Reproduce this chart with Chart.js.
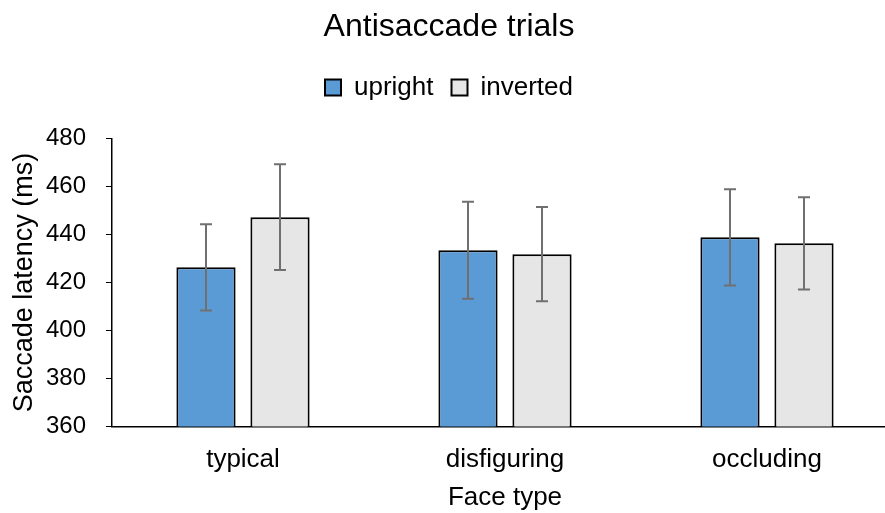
<!DOCTYPE html>
<html>
<head>
    <title>Antisaccade trials</title>
    <script src="https://cdn.jsdelivr.net/npm/chart.js@4.4.0/dist/chart.umd.min.js"></script>
    <style>
        body {
            margin: 0;
            overflow: hidden;
            background-color: #ffffff;
        }
        .chart-container {
            width: 898px;
            height: 513px;
        }
    </style>
</head>
<body>
    <div class="chart-container">
        <canvas id="latencyChart" width="898" height="513"></canvas>
    </div>

    <script>
        // Values
        const categories = ['typical', 'disfiguring', 'occluding'];
        const upright = [426.3, 433.4, 438.8];
        const inverted = [447.2, 431.8, 436.3];
        const uprightErr = [18.0, 20.2, 20.0];
        const invertedErr = [22.0, 19.6, 19.2];
        const yTicks = [360, 380, 400, 420, 440, 460, 480];

        const fontFamily = "'Liberation Sans', Arial, sans-serif";
        Chart.defaults.font.family = fontFamily;
        Chart.defaults.color = '#000000';

        // draws the error bars on top of each bar
        const errorBars = {
            id: 'errorBars',
            afterDatasetsDraw(chart) {
                const ctx = chart.ctx;
                const yScale = chart.scales.y;
                const errs = [uprightErr, invertedErr];
                ctx.save();
                ctx.strokeStyle = '#707070';
                ctx.lineWidth = 2;
                chart.data.datasets.forEach((ds, i) => {
                    const meta = chart.getDatasetMeta(i);
                    meta.data.forEach((bar, j) => {
                        const v = ds.data[j];
                        const e = errs[i][j];
                        const x = bar.x;
                        const yTop = yScale.getPixelForValue(v + e);
                        const yBot = yScale.getPixelForValue(v - e);
                        ctx.beginPath();
                        ctx.moveTo(x, yTop);
                        ctx.lineTo(x, yBot);
                        ctx.moveTo(x - 6, yTop);
                        ctx.lineTo(x + 6, yTop);
                        ctx.moveTo(x - 6, yBot);
                        ctx.lineTo(x + 6, yBot);
                        ctx.stroke();
                    });
                });
                ctx.restore();
            }
        };

        // extra room under the legend
        const legendSpace = {
            id: 'legendSpace',
            beforeInit(chart) {
                const origFit = chart.legend.fit;
                chart.legend.fit = function () {
                    origFit.bind(chart.legend)();
                    this.height += 28;
                };
            }
        };

        const ctx = document.getElementById('latencyChart').getContext('2d');
        const chart = new Chart(ctx, {
            type: 'bar',
            data: {
                labels: categories,
                datasets: [{
                    label: 'upright',
                    data: upright,
                    backgroundColor: '#5B9BD5',
                    borderColor: '#000000',
                    borderWidth: 2,
                    borderSkipped: false,
                    barPercentage: 0.8,
                    categoryPercentage: 0.565
                }, {
                    label: 'inverted',
                    data: inverted,
                    backgroundColor: '#E6E6E6',
                    borderColor: '#000000',
                    borderWidth: 2,
                    borderSkipped: false,
                    barPercentage: 0.8,
                    categoryPercentage: 0.565
                }]
            },
            options: {
                responsive: false,
                animation: false,
                layout: {
                    padding: { left: 0, right: 0, top: 0, bottom: 0 }
                },
                scales: {
                    y: {
                        min: 360,
                        max: 480,
                        afterBuildTicks: (scale) => {
                            scale.ticks = yTicks.map(v => ({ value: v }));
                        },
                        afterFit: (scale) => {
                            scale.width = 112;
                        },
                        grid: {
                            drawOnChartArea: false,
                            drawTicks: true,
                            tickLength: 6,
                            color: '#000000'
                        },
                        border: {
                            display: true,
                            color: '#000000',
                            width: 1.5
                        },
                        ticks: {
                            padding: 20,
                            font: { size: 24 },
                            color: '#000000'
                        },
                        title: {
                            display: true,
                            text: 'Saccade latency (ms)',
                            font: { size: 27 },
                            color: '#000000',
                            padding: { top: 8, bottom: 0 }
                        }
                    },
                    x: {
                        grid: {
                            display: false
                        },
                        border: {
                            display: true,
                            color: '#000000',
                            width: 1.5
                        },
                        ticks: {
                            padding: 10,
                            font: { size: 26 },
                            color: '#000000'
                        },
                        title: {
                            display: true,
                            text: 'Face type',
                            font: { size: 26 },
                            color: '#000000',
                            padding: { top: -4, bottom: 0 }
                        }
                    }
                },
                plugins: {
                    title: {
                        display: true,
                        text: 'Antisaccade trials',
                        font: { size: 32, weight: 'normal' },
                        color: '#000000',
                        padding: { top: 8, bottom: 10 }
                    },
                    legend: {
                        position: 'top',
                        labels: {
                            boxWidth: 16,
                            boxHeight: 16,
                            padding: 18,
                            font: { size: 26 },
                            color: '#000000'
                        }
                    },
                    tooltip: { enabled: false }
                }
            },
            plugins: [errorBars, legendSpace]
        });
    </script>
</body>
</html>
